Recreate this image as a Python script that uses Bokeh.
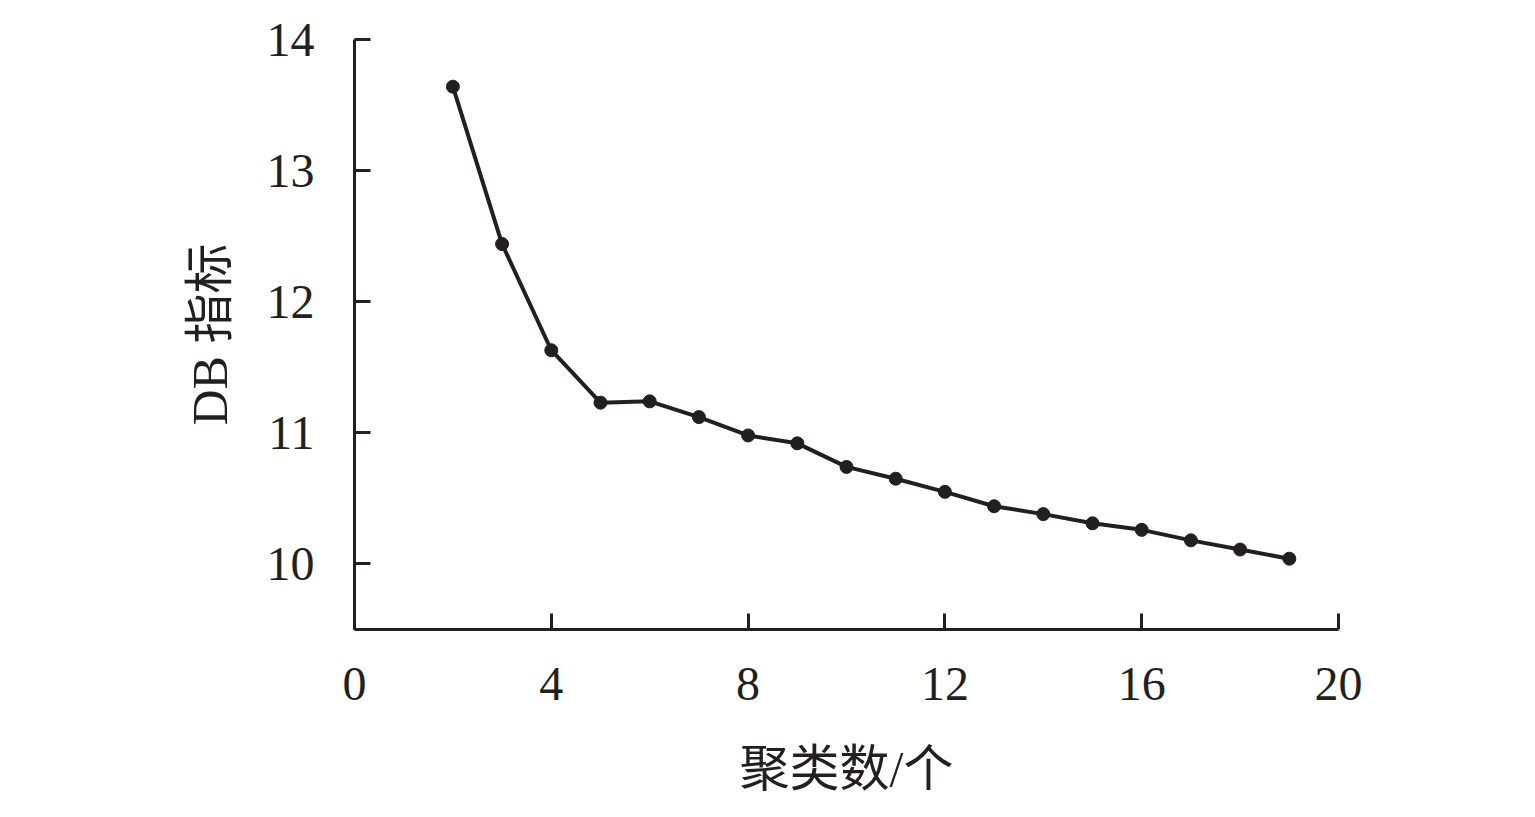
from bokeh.plotting import figure
from bokeh.models import Range1d, FixedTicker
from bokeh.embed import file_html
from bokeh.resources import INLINE

clusters = [2, 3, 4, 5, 6, 7, 8, 9, 10, 11, 12, 13, 14, 15, 16, 17, 18, 19]
db_index = [13.64, 12.44, 11.63, 11.23, 11.24, 11.12, 10.98, 10.92, 10.74,
            10.65, 10.55, 10.44, 10.38, 10.31, 10.26, 10.18, 10.11, 10.04]
x_ticks = [0, 4, 8, 12, 16, 20]
y_ticks = [10, 11, 12, 13, 14]
x_label = "聚类数/个"
y_label = "DB 指标"

ink = "#231F20"
serif = "'Liberation Serif', 'Noto Sans CJK SC'"

p = figure(width=1530, height=808, output_backend="svg", toolbar_location=None,
           x_range=Range1d(0, 20), y_range=Range1d(9.5, 14),
           min_border_left=354, min_border_right=192, min_border_top=39, min_border_bottom=179)
p.outline_line_color = None
p.grid.grid_line_color = None
p.background_fill_color = "white"

p.line(clusters, db_index, line_color=ink, line_width=4)
p.scatter(clusters, db_index, size=13, fill_color=ink, line_color=ink)

for ax in (p.xaxis[0], p.yaxis[0]):
    ax.axis_line_color = ink
    ax.axis_line_width = 3
    ax.major_tick_line_color = ink
    ax.major_tick_line_width = 3
    ax.major_tick_in = 16
    ax.major_tick_out = 0
    ax.minor_tick_line_color = None
    ax.major_label_text_font = serif
    ax.major_label_text_font_size = "48px"
    ax.major_label_text_color = ink
    ax.axis_label_text_font = serif
    ax.axis_label_text_font_size = "50px"
    ax.axis_label_text_font_style = "normal"
    ax.axis_label_text_color = ink

p.xaxis[0].ticker = FixedTicker(ticks=x_ticks)
p.yaxis[0].ticker = FixedTicker(ticks=y_ticks)
p.xaxis[0].axis_label = x_label
p.yaxis[0].axis_label = y_label
p.xaxis[0].major_label_standoff = 38
p.yaxis[0].major_label_standoff = 40
p.xaxis[0].axis_label_standoff = 38
p.yaxis[0].axis_label_standoff = 26

open("out.html", "w").write(file_html(p, INLINE))
